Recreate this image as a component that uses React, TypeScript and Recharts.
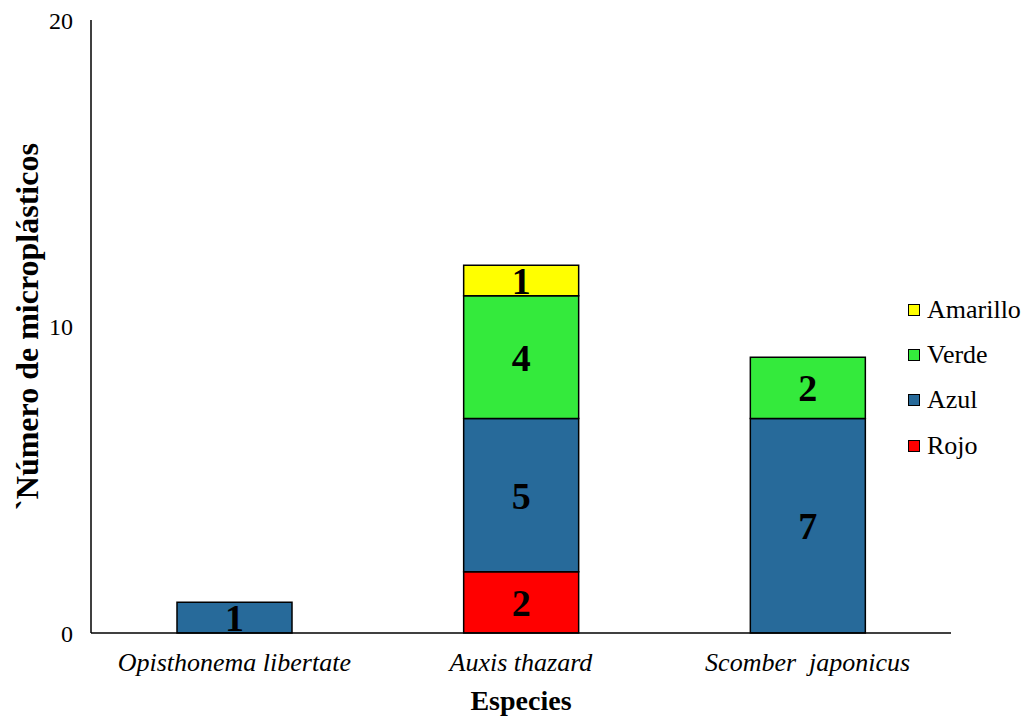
import React from "react";
import { BarChart, Bar, XAxis, YAxis, LabelList, Label } from "recharts";

const species = ["Opisthonema libertate", "Auxis thazard", "Scomber\u00a0 japonicus"];
const rojo = [null, 2, null];
const azul = [1, 5, 7];
const verde = [null, 4, 2];
const amarillo = [null, 1, null];
const yTicks = [0, 10, 20];

const seriesInfo = [
  { key: "Rojo", color: "#FF0000" },
  { key: "Azul", color: "#276A9A" },
  { key: "Verde", color: "#34EA3C" },
  { key: "Amarillo", color: "#FFFF00" },
];

const data = species.map((s, i) => ({
  name: s,
  Rojo: rojo[i],
  Azul: azul[i],
  Verde: verde[i],
  Amarillo: amarillo[i],
}));

const FONT = "Liberation Serif, Times New Roman, serif";

export default function App() {
  return (
    <div style={{ position: "absolute", left: 0, top: 0, width: 1028, height: 720, background: "#fff", fontFamily: FONT }}>
      <BarChart
        width={1028}
        height={720}
        data={data}
        margin={{ top: 20, right: 77, bottom: 0, left: 0 }}
        barSize={115}
        style={{ fontFamily: FONT }}
      >
        <XAxis
          dataKey="name"
          height={87}
          tickLine={false}
          tickSize={0}
          tickMargin={20}
          axisLine={{ stroke: "#000", strokeWidth: 1.5 }}
          tick={{ fill: "#000", fontSize: 26, fontStyle: "italic", fontFamily: FONT }}
          interval={0}
        >
          <Label
            value="Especies"
            position="insideBottom"
            offset={10}
            style={{ fill: "#000", fontFamily: FONT, fontSize: 28, fontWeight: "bold" }}
          />
        </XAxis>
        <YAxis
          width={91}
          domain={[0, 20]}
          ticks={yTicks}
          tickLine={false}
          tickSize={0}
          tickMargin={18}
          axisLine={{ stroke: "#000", strokeWidth: 1.5 }}
          tick={{ fill: "#000", fontSize: 24, fontFamily: FONT }}
        >
          <Label
            value="`Número de microplásticos"
            angle={-90}
            position="center"
            dx={-19}
            style={{ fill: "#000", fontFamily: FONT, fontSize: 32, fontWeight: "bold", textAnchor: "middle" }}
          />
        </YAxis>
        {seriesInfo.map((s) => (
          <Bar
            key={s.key}
            dataKey={s.key}
            stackId="a"
            fill={s.color}
            stroke="#000"
            strokeWidth={1.5}
            isAnimationActive={false}
          >
            <LabelList
              dataKey={s.key}
              position="center"
              formatter={(v: any) => (v ? v : "")}
              style={{ fill: "#000", fontFamily: FONT, fontSize: 38, fontWeight: "bold" }}
            />
          </Bar>
        ))}
      </BarChart>
      <div style={{ position: "absolute", left: 908, top: 287, fontFamily: FONT, fontSize: 26, color: "#000" }}>
        {[...seriesInfo].reverse().map((s) => (
          <div key={s.key} style={{ display: "flex", alignItems: "center", height: 45.3 }}>
            <span
              style={{
                display: "inline-block",
                width: 10,
                height: 10,
                background: s.color,
                border: "1.5px solid #000",
                marginRight: 7,
              }}
            />
            <span>{s.key}</span>
          </div>
        ))}
      </div>
    </div>
  );
}
